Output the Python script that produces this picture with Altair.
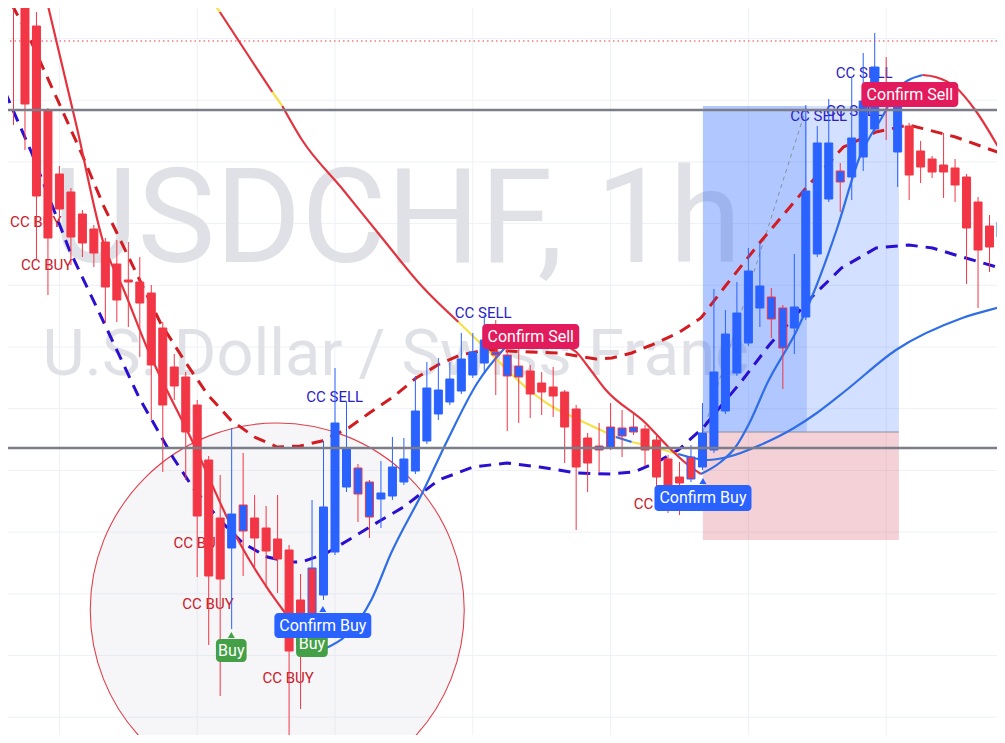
import altair as alt
import pandas as pd

# ---------------- candles (bar index 0..86); levels (axis runs downward) -------------
OPEN = [-60, -30, 26, 111, 174, 192, 214, 229, 242, 264,
        280, 282, 293, 328, 367, 377, 405, 460, 518, 548,
        531, 518, 528, 539, 550, 600, 568, 595, 552, 487,
        494, 517, 499, 496, 482, 471, 441, 414, 402, 391,
        375, 363, 355, 376, 377, 371, 383, 387, 392, 409,
        438, 450, 448, 436, 432, 429, 440, 459, 477, 457,
        467, 450, 411, 373, 343, 308, 319, 348, 328, 317,
        254, 199, 182, 177, 157, 129, 95, 152, 126, 151,
        159, 165, 168, 177, 202, 226, 237]
HIGH = [-70, -35, 12, 108, 166, 188, 210, 225, 238, 240,
        242, 257, 285, 322, 354, 372, 400, 456, 475, 428,
        453, 495, 506, 495, 545, 574, 500, 441, 368, 402,
        464, 480, 461, 437, 438, 376, 362, 358, 362, 333,
        333, 315, 320, 333, 333, 365, 372, 367, 390, 405,
        433, 423, 403, 410, 412, 425, 436, 455, 462, 445,
        403, 289, 310, 282, 248, 243, 288, 305, 254, 105,
        126, 99, 163, 77, 53, 33, 57, 98, 123, 141,
        156, 133, 159, 174, 197, 215, 218]
LOW = [125, 150, 260, 295, 222, 265, 257, 267, 323, 322,
       327, 357, 420, 472, 400, 480, 577, 645, 696, 629,
       576, 570, 588, 593, 741, 709, 625, 600, 555, 492,
       522, 538, 528, 500, 485, 474, 444, 420, 405, 394,
       378, 373, 395, 431, 423, 418, 415, 417, 463, 530,
       492, 472, 450, 457, 435, 466, 505, 513, 515, 482,
       470, 453, 414, 376, 346, 327, 338, 389, 354, 320,
       257, 202, 212, 200, 171, 132, 140, 187, 200, 183,
       178, 198, 202, 284, 308, 272, 240]
CLOSE = [-5, 104, 196, 238, 209, 237, 243, 253, 287, 300,
         282, 303, 365, 405, 386, 432, 516, 576, 579, 514,
         505, 538, 551, 559, 651, 645, 622, 507, 423, 449,
         468, 482, 493, 467, 459, 411, 388, 390, 379, 359,
         352, 340, 352, 355, 366, 394, 392, 396, 427, 467,
         463, 446, 427, 428, 427, 450, 477, 493, 483, 479,
         433, 372, 334, 313, 271, 286, 297, 308, 307, 191,
         143, 143, 171, 138, 101, 67, 105, 100, 175, 167,
         172, 172, 185, 228, 250, 247, 222]
# d = red bar, u = blue bar, ur = blue bar with red edge, db = red bar with blue edge
KIND = (["d"] * 19 + ["u", "ur"] + ["d"] * 5 + ["db"] + ["u"] * 3 + ["ur", "ur"] + ["u"] * 10
        + ["ur"] * 3 + ["d"] * 6 + ["ur"] * 4 + ["d"] * 4 + ["db"] + ["u"] * 6 + ["ur"] * 2
        + ["u"] * 4 + ["ur"] + ["u"] * 3 + ["d", "u"] + ["d"] * 8 + ["u"])

# ---------------- indicator lines: (bar, level) vertices, per coloured segment -------------
FAST = [
    ("#e5323f", [(2.72, -8), (5.47, 125), (7.89, 245), (9.61, 290), (11.6, 347), (15.65, 443),
                 (19.7, 543), (23.66, 613), (25.73, 642), (27.03, 649)]),
    ("#2f6ee6", [(27.03, 649), (29.01, 635), (31.16, 600), (32.89, 553), (35.73, 490), (37.8, 440),
                 (40.39, 383), (42.63, 350), (43.66, 338), (44.96, 333)]),
    ("#e5323f", [(44.96, 333), (46.51, 337), (47.97, 345), (49.01, 352), (50.13, 368), (51.59, 390),
                 (55.04, 423), (57.03, 447), (58.75, 465), (59.87, 474)]),
    ("#2f6ee6", [(59.87, 474), (61.59, 462), (62.89, 447), (64.09, 423), (65.65, 383), (68.23, 330),
                 (69.53, 297), (71.68, 230), (73.66, 158), (75.99, 110), (76.85, 90), (77.97, 80),
                 (79.18, 75)]),
    ("#e5323f", [(79.18, 75), (80.3, 77), (82.03, 87), (83.75, 110), (85.91, 150), (86.5, 162)]),
]
SLOW = [
    ("#f5e04a", [(16.94, -5), (17.97, 12)]),
    ("#e0343f", [(17.97, 12), (20.82, 62), (22.54, 92)]),
    ("#f5e04a", [(22.54, 92), (23.41, 106)]),
    ("#e0343f", [(23.41, 106), (25.13, 140), (28.58, 188), (32.03, 237), (35.47, 285), (38.75, 322)]),
    ("#f5e04a", [(38.75, 322), (41.25, 350), (45.22, 393), (46.68, 405), (49.27, 420), (52.46, 437)]),
    ("#2f6ee6", [(52.46, 437), (53.84, 442)]),
    ("#f5e04a", [(53.84, 442), (55.3, 446), (57.89, 454)]),
    ("#2f6ee6", [(57.89, 454), (60.47, 460), (62.2, 457), (65.04, 445), (67.97, 428), (69.96, 413),
                 (72.54, 390), (76.85, 350), (82.63, 318), (85.91, 307), (86.5, 305)]),
]
UPPER = [(-0.13, 5), (1.16, 32), (3.84, 100), (5.99, 155), (7.89, 207), (9.01, 233), (12.8, 323),
         (14.96, 362), (16.94, 395), (18.92, 420), (20.99, 437), (22.97, 447), (24.96, 446),
         (26.85, 441), (29.18, 428), (30.99, 413), (33.06, 397), (35.06, 378), (36.94, 365),
         (38.92, 355), (41.08, 350), (44.96, 352), (47.54, 353), (50.73, 359), (52.11, 358),
         (53.84, 353), (55.56, 345), (57.89, 333), (59.87, 318), (61.93, 287), (65.04, 242),
         (69.09, 187), (72.28, 147), (75.13, 132), (77.97, 125), (79.7, 130), (82.03, 137),
         (85.91, 153), (86.5, 156)]
LOWER = [(-0.73, 92), (1.59, 153), (4.87, 250), (7.89, 323), (10.91, 397), (13.92, 458), (15.65, 488),
         (17.97, 520), (19.96, 543), (22.11, 557), (24.01, 562), (25.13, 562), (27.28, 553),
         (29.18, 540), (32.03, 520), (33.97, 507), (37.03, 480), (40.04, 467), (42.97, 463),
         (45.82, 467), (49.01, 473), (52.03, 474), (54.01, 472), (55.91, 463), (57.89, 450),
         (60.04, 428), (63.49, 380), (65.82, 345), (69.53, 297), (72.11, 268), (75.13, 248),
         (77.97, 245), (80.04, 248), (82.03, 255), (85.91, 268), (86.5, 270)]

# ---------------- drawings -------------
GRID_BARS = [4, 16, 28, 40, 52, 64, 76]
GRID_LEVELS = [38.5, 100.2, 161.9, 223.6, 285.3, 347, 408.7, 470.4, 532.1, 593.8, 655.5, 717.2]
HLINES = [4, 110, 448]
RED_DOTTED = [41]
POS_LEFT, POS_MID, POS_RIGHT = 60.04, 69.09, 77.11
POS_TARGET, POS_ENTRY, POS_STOP = 106, 432, 540
CIRCLE = (22.97, 610)

WATERMARK = [("USDCHF, 1h", 33.4, 262, 131),
             ("U.S. Dollar / Swiss Franc", 33.3, 375, 65)]
CC_BUY = [(1.94, 222), (2.89, 265), (16.16, 543), (16.94, 604), (23.92, 678), (56.25, 504)]
CC_SELL = [(27.97, 397), (40.91, 313), (70.13, 116), (73.23, 111), (74.09, 73)]
BOXES = [  # text, x1, x2, y1, y2, colour
    ("Buy", 17.63, 20.3, 639, 662, "#43a047"),
    ("Buy", 24.61, 27.37, 630, 657, "#43a047"),
    ("Confirm Buy", 22.72, 31.16, 613, 638, "#2962ff"),
    ("Confirm Buy", 55.82, 64.27, 485, 511, "#2962ff"),
    ("Confirm Sell", 40.82, 49.27, 324, 349, "#e21b5c"),
    ("Confirm Sell", 73.84, 82.28, 82, 107, "#e21b5c"),
]
POINTERS = [(18.97, 635, "#43a047"), (26.94, 609, "#2962ff"), (60.04, 481, "#2962ff")]

# ---------------- build -------------
XS = alt.Scale(domain=[-0.0431, 85.216], nice=False, zero=False)
YS = alt.Scale(domain=[735, 8], nice=False, zero=False)


def X(f="x"):
    return alt.X(f"{f}:Q", scale=XS, axis=None)


def Y(f="y"):
    return alt.Y(f"{f}:Q", scale=YS, axis=None)


RED, BLUE = "#f23645", "#2962ff"
fills = {"d": RED, "u": BLUE, "ur": BLUE, "db": RED}
edges = {"d": RED, "u": BLUE, "ur": RED, "db": BLUE}
candles = pd.DataFrame({"i": list(range(len(OPEN))), "o": OPEN, "h": HIGH, "l": LOW, "c": CLOSE,
                        "fill": [fills[k] for k in KIND], "edge": [edges[k] for k in KIND]})


def seg_frame(segs, name):
    rows = []
    for s, (col, pts) in enumerate(segs):
        for k, (x, y) in enumerate(pts):
            rows.append({"x": x, "y": y, "seg": f"{name}{s}", "col": col, "ord": k})
    return pd.DataFrame(rows)


fast_df = seg_frame(FAST, "f")
slow_df = seg_frame(SLOW, "s")
upper_df = pd.DataFrame(UPPER, columns=["x", "y"]).assign(ord=lambda d: range(len(d)))
lower_df = pd.DataFrame(LOWER, columns=["x", "y"]).assign(ord=lambda d: range(len(d)))

layers = []
# grid
layers.append(alt.Chart(pd.DataFrame({"x": GRID_BARS})).mark_rule(color="#eef1f7", strokeWidth=1, clip=True)
              .encode(x=X()))
layers.append(alt.Chart(pd.DataFrame({"y": GRID_LEVELS})).mark_rule(color="#eef1f7", strokeWidth=1, clip=True)
              .encode(y=Y()))
# watermark
for txt, x, y, fs in WATERMARK:
    layers.append(alt.Chart(pd.DataFrame({"x": [x], "y": [y], "t": [txt]}))
                  .mark_text(align="center", baseline="alphabetic", font="Roboto", fontSize=fs,
                             color="#e0e1e6", clip=True)
                  .encode(x=X(), y=Y(), text="t:N"))
# highlight circle
layers.append(alt.Chart(pd.DataFrame({"x": [CIRCLE[0]], "y": [CIRCLE[1]]}))
              .mark_point(shape="circle", size=374 * 374, filled=True, fill="#c4c4d6", fillOpacity=0.16,
                          stroke="#e0404c", strokeWidth=1.1, strokeOpacity=1, clip=True)
              .encode(x=X(), y=Y()))
# long position tool
pos = pd.DataFrame({"x": [POS_LEFT, POS_LEFT, POS_LEFT], "x2": [POS_RIGHT, POS_RIGHT, POS_MID],
                    "y": [POS_ENTRY, POS_TARGET, POS_TARGET], "y2": [POS_STOP, POS_ENTRY, POS_ENTRY],
                    "col": ["#d0485a", "#2962ff", "#2962ff"], "op": [0.25, 0.2, 0.2]})
layers.append(alt.Chart(pos).mark_rect(clip=True)
              .encode(x=X(), x2="x2:Q", y=Y(), y2="y2:Q", fill=alt.Fill("col:N", scale=None),
                      opacity=alt.Opacity("op:Q", scale=None)))
layers.append(alt.Chart(pd.DataFrame({"x": [POS_LEFT], "x2": [POS_RIGHT], "y": [POS_ENTRY]}))
              .mark_rule(color="#8c8f99", strokeWidth=1, clip=True).encode(x=X(), x2="x2:Q", y=Y()))
layers.append(alt.Chart(pd.DataFrame({"x": [POS_LEFT, POS_MID], "y": [POS_ENTRY, POS_TARGET]}))
              .mark_line(color="#8c8f99", strokeWidth=1, strokeDash=[4, 4], clip=True).encode(x=X(), y=Y()))
# signal texts
layers.append(alt.Chart(pd.DataFrame(CC_BUY, columns=["x", "y"]).assign(t="CC BUY"))
              .mark_text(font="Roboto", fontSize=15, color="#c8202c", clip=True)
              .encode(x=X(), y=Y(), text="t:N"))
layers.append(alt.Chart(pd.DataFrame(CC_SELL, columns=["x", "y"]).assign(t="CC SELL"))
              .mark_text(font="Roboto", fontSize=15, color="#2b1fc7", clip=True)
              .encode(x=X(), y=Y(), text="t:N"))
# indicator lines
layers.append(alt.Chart(upper_df).mark_line(color="#d21c22", strokeWidth=3, strokeDash=[12, 8], clip=True)
              .encode(x=X(), y=Y(), order="ord:Q"))
layers.append(alt.Chart(lower_df).mark_line(color="#2a0fd0", strokeWidth=3, strokeDash=[12, 8], clip=True)
              .encode(x=X(), y=Y(), order="ord:Q"))
for df in (slow_df, fast_df):
    layers.append(alt.Chart(df).mark_line(strokeWidth=2.2, interpolate="monotone", clip=True)
                  .encode(x=X(), y=Y(), detail="seg:N", order="ord:Q",
                          color=alt.Color("col:N", scale=None)))
# candles
layers.append(alt.Chart(candles).mark_rule(strokeWidth=1, clip=True)
              .encode(x=X("i"), y=Y("h"), y2="l:Q", color=alt.Color("edge:N", scale=None)))
layers.append(alt.Chart(candles).mark_bar(size=8, strokeWidth=1, clip=True)
              .encode(x=X("i"), y=Y("o"), y2="c:Q", fill=alt.Fill("fill:N", scale=None),
                      stroke=alt.Stroke("edge:N", scale=None)))
# horizontal drawings
layers.append(alt.Chart(pd.DataFrame({"y": HLINES})).mark_rule(color="#7b7e88", strokeWidth=2.5, clip=True)
              .encode(y=Y()))
layers.append(alt.Chart(pd.DataFrame({"y": RED_DOTTED}))
              .mark_rule(color="#f23645", strokeWidth=1.2, strokeDash=[1.5, 3], clip=True).encode(y=Y()))
# label boxes
for t, x1, x2, y1, y2, col in BOXES:
    d = pd.DataFrame({"x": [x1], "x2": [x2], "y": [y1], "y2": [y2], "xc": [(x1 + x2) / 2],
                      "yc": [(y1 + y2) / 2], "t": [t]})
    layers.append(alt.Chart(d).mark_rect(cornerRadius=4, color=col, clip=True)
                  .encode(x=X(), x2="x2:Q", y=Y(), y2="y2:Q"))
    layers.append(alt.Chart(d).mark_text(font="Roboto", fontSize=16, color="white", clip=True)
                  .encode(x=X("xc"), y=Y("yc"), text="t:N"))
layers.append(alt.Chart(pd.DataFrame(POINTERS, columns=["x", "y", "col"]))
              .mark_point(shape="triangle-up", size=50, filled=True, opacity=1, clip=True)
              .encode(x=X(), y=Y(), color=alt.Color("col:N", scale=None)))

chart = (alt.layer(*layers)
         .properties(width=989, height=727, background="white", padding=0,
                     autosize=alt.AutoSizeParams(type="none"))
         .configure_view(stroke=None))
chart.save("out.html", embed_options={"renderer": "svg", "actions": False})
